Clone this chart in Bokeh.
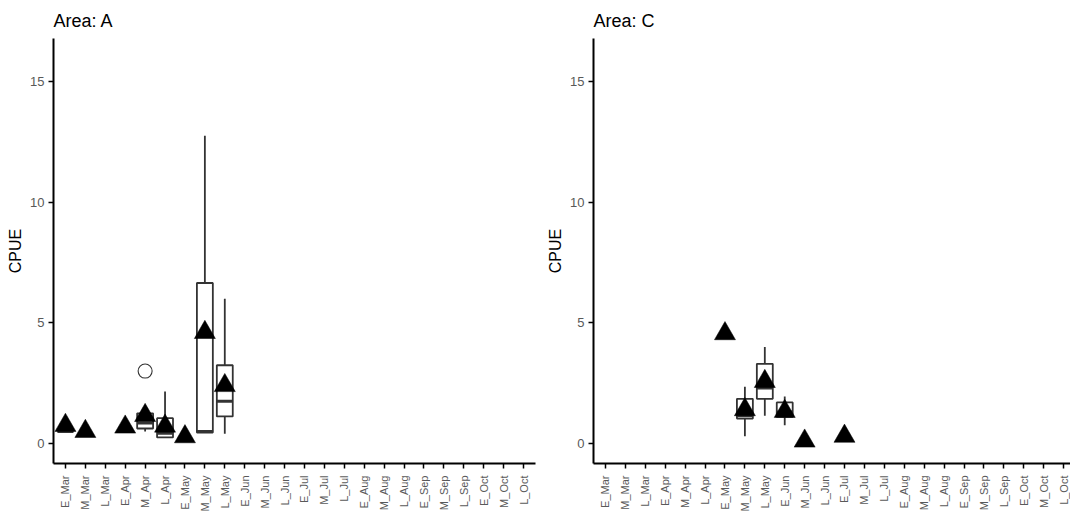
import math
from bokeh.plotting import figure
from bokeh.layouts import row
from bokeh.models import FixedTicker, Range1d, ColumnDataSource
from bokeh.embed import file_html
from bokeh.resources import INLINE

periods = ["E_Mar", "M_Mar", "L_Mar", "E_Apr", "M_Apr", "L_Apr", "E_May", "M_May",
           "L_May", "E_Jun", "M_Jun", "L_Jun", "E_Jul", "M_Jul", "L_Jul", "E_Aug",
           "M_Aug", "L_Aug", "E_Sep", "M_Sep", "L_Sep", "E_Oct", "M_Oct", "L_Oct"]

# Area A
a_box_cat = ["E_Mar", "M_Apr", "L_Apr", "M_May", "L_May"]
a_lo = [0.5, 0.5, 0.25, 0.45, 0.4]
a_q1 = [0.5, 0.62, 0.25, 0.45, 1.12]
a_med = [0.5, 0.85, 0.42, 0.5, 1.75]
a_q3 = [0.5, 1.25, 1.05, 6.65, 3.24]
a_hi = [0.5, 1.25, 2.15, 12.75, 6.0]
a_mean_cat = ["E_Mar", "M_Mar", "E_Apr", "M_Apr", "L_Apr", "E_May", "M_May", "L_May"]
a_mean = [0.75, 0.5, 0.68, 1.16, 0.72, 0.28, 4.6, 2.4]
a_out_cat = ["M_Apr"]
a_out = [3.0]

# Area C
c_box_cat = ["M_May", "L_May", "E_Jun"]
c_lo = [0.3, 1.15, 0.75]
c_q1 = [1.03, 1.85, 1.1]
c_med = [1.15, 2.3, 1.3]
c_q3 = [1.85, 3.3, 1.7]
c_hi = [2.35, 4.0, 1.95]
c_mean_cat = ["E_May", "M_May", "L_May", "E_Jun", "M_Jun", "E_Jul"]
c_mean = [4.55, 1.4, 2.57, 1.33, 0.1, 0.3]
c_out_cat = []
c_out = []

y_ticks = [0, 5, 10, 15]
FONT = "Liberation Sans"
PX_PER_CAT = 19.92


def pos(cats):
    return [periods.index(c) + 1 for c in cats]


def panel(title, box_cat, lo, q1, med, q3, hi, mean_cat, mean, out_cat, out,
          frame_w, x_end, border_right):
    p = figure(frame_width=frame_w, frame_height=425, output_backend="svg",
               toolbar_location=None, title=title,
               x_range=Range1d(0.4, x_end), y_range=Range1d(-0.83, 16.78),
               min_border_left=53, min_border_right=border_right,
               min_border_top=38, min_border_bottom=48)
    p.outline_line_color = None
    p.xgrid.visible = False
    p.ygrid.visible = False
    p.background_fill_color = "white"
    p.border_fill_color = "white"

    p.title.text_font = FONT
    p.title.text_font_size = "18px"
    p.title.text_font_style = "normal"
    p.title.text_color = "black"
    p.title.align = "left"
    p.title.standoff = 15

    xa = p.xaxis[0]
    xa.ticker = FixedTicker(ticks=list(range(1, len(periods) + 1)))
    xa.major_label_overrides = {i + 1: n for i, n in enumerate(periods)}
    xa.major_label_orientation = math.pi / 2
    xa.major_label_text_font = FONT
    xa.major_label_text_font_size = "11px"
    xa.major_label_text_color = "#595959"
    xa.major_label_standoff = 7
    xa.axis_line_width = 2
    xa.axis_line_color = "black"
    xa.major_tick_line_color = "black"
    xa.major_tick_line_width = 1.5
    xa.major_tick_out = 5
    xa.major_tick_in = 0
    xa.minor_tick_line_color = None

    ya = p.yaxis[0]
    ya.ticker = FixedTicker(ticks=y_ticks)
    ya.major_label_text_font = FONT
    ya.major_label_text_font_size = "13px"
    ya.major_label_text_color = "#595959"
    ya.major_label_standoff = 4
    ya.axis_line_width = 2
    ya.axis_line_color = "black"
    ya.major_tick_line_color = "black"
    ya.major_tick_line_width = 1.5
    ya.major_tick_out = 5
    ya.major_tick_in = 0
    ya.minor_tick_line_color = None
    ya.axis_label = "CPUE"
    ya.axis_label_text_font = FONT
    ya.axis_label_text_font_size = "16px"
    ya.axis_label_text_font_style = "normal"
    ya.axis_label_text_color = "black"
    ya.axis_label_standoff = 3

    bx = pos(box_cat)
    src = ColumnDataSource(dict(x=bx, x0=[v - 0.4 for v in bx], x1=[v + 0.4 for v in bx],
                                lo=lo, q1=q1, med=med, q3=q3, hi=hi))
    lc = "#333333"
    p.segment(x0="x", y0="lo", x1="x", y1="q1", source=src, line_color=lc, line_width=1.8)
    p.segment(x0="x", y0="q3", x1="x", y1="hi", source=src, line_color=lc, line_width=1.8)
    p.vbar(x="x", width=0.8, bottom="q1", top="q3", source=src,
           fill_color="white", line_color=lc, line_width=1.8)
    p.segment(x0="x0", y0="med", x1="x1", y1="med", source=src, line_color=lc, line_width=3)

    if out:
        p.scatter(x=pos(out_cat), y=out, marker="circle", size=14,
                  fill_color=None, line_color=lc, line_width=1.1)

    p.scatter(x=pos(mean_cat), y=mean, marker="triangle", size=21,
              fill_color="black", line_color="black", line_width=0.5)
    return p


left = panel("Area: A", a_box_cat, a_lo, a_q1, a_med, a_q3, a_hi, a_mean_cat, a_mean,
             a_out_cat, a_out, frame_w=482, x_end=24.6, border_right=5)
right_w = 477
right = panel("Area: C", c_box_cat, c_lo, c_q1, c_med, c_q3, c_hi, c_mean_cat, c_mean,
              c_out_cat, c_out, frame_w=right_w, x_end=0.4 + right_w / PX_PER_CAT,
              border_right=0)

layout = row(left, right)
open("out.html", "w").write(file_html(layout, INLINE))
